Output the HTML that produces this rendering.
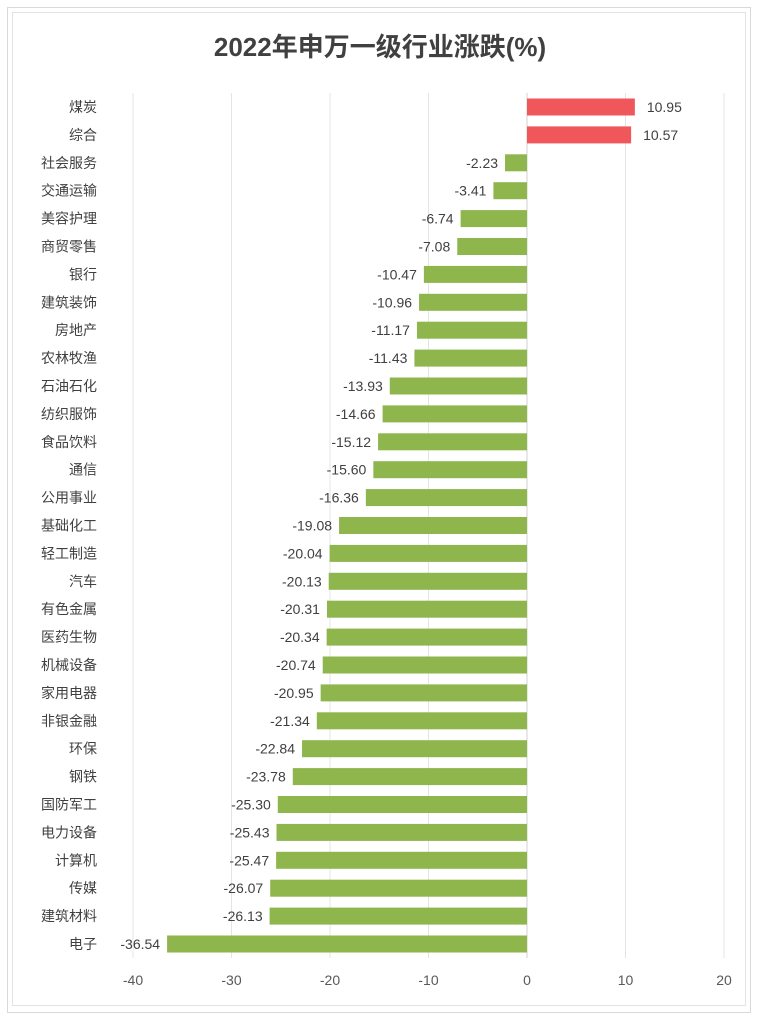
<!DOCTYPE html>
<html><head><meta charset="utf-8"><style>
body{margin:0;background:#fff;}
svg{display:block;font-family:"Liberation Sans","Noto Sans CJK SC",sans-serif;}
</style></head><body>
<svg id="chart" width="761" height="1024">
<rect x="7.5" y="7.5" width="743" height="1005" fill="#fff" stroke="#d9d9d9"/>
<rect x="12.5" y="12.5" width="733" height="993" fill="#fff" stroke="#e3e3e3"/>
<text x="380" y="56" text-anchor="middle" font-size="26" font-weight="bold" fill="#404040">2022年申万一级行业涨跌(%)</text>
<g id="grid"></g><g id="bars"></g><g id="labels"></g><g id="ticks"></g>
</svg>
<script>
const categories=["煤炭","综合","社会服务","交通运输","美容护理","商贸零售","银行","建筑装饰","房地产","农林牧渔","石油石化","纺织服饰","食品饮料","通信","公用事业","基础化工","轻工制造","汽车","有色金属","医药生物","机械设备","家用电器","非银金融","环保","钢铁","国防军工","电力设备","计算机","传媒","建筑材料","电子"];
const values=[10.95,10.57,-2.23,-3.41,-6.74,-7.08,-10.47,-10.96,-11.17,-11.43,-13.93,-14.66,-15.12,-15.60,-16.36,-19.08,-20.04,-20.13,-20.31,-20.34,-20.74,-20.95,-21.34,-22.84,-23.78,-25.30,-25.43,-25.47,-26.07,-26.13,-36.54];
const tickValues=[-40,-30,-20,-10,0,10,20];
const NS="http://www.w3.org/2000/svg";
const x=v=>527+v*9.85;
const y=i=>107+i*27.9;
function mk(tag,attrs,parent){const e=document.createElementNS(NS,tag);for(const k in attrs)e.setAttribute(k,attrs[k]);document.getElementById(parent).appendChild(e);return e;}
tickValues.forEach(t=>{
  const l=mk('line',{x1:x(t),x2:x(t),y1:93,y2:958,stroke:t===0?'#d0d0d0':'#e4e4e4','stroke-width':1},'grid');
  
  
  const tx=mk('text',{x:x(t),y:985,'text-anchor':'middle','font-size':14,fill:'#595959'},'ticks');
  tx.textContent=String(t);
  
  
});
categories.forEach((c,i)=>{
  const v=values[i];
  const x0=Math.min(x(0),x(v)),w=Math.abs(x(v)-x(0));
  const b=mk('rect',{x:x0,y:y(i)-8.5,width:w,height:17,fill:v>=0?'#f0575a':'#8fb54d'},'bars');
  
  
  const lb=mk('text',{x:97,y:y(i)+5,'text-anchor':'end','font-size':14,fill:'#404040'},'labels');
  lb.textContent=c;
  
  
  const vl=mk('text',{x:v>=0?x(v)+12:x(v)-7,y:y(i)+5,'text-anchor':v>=0?'start':'end','font-size':14,fill:'#404040'},'labels');
  vl.textContent=v.toFixed(2);
  
  
});
</script>
</body></html>
